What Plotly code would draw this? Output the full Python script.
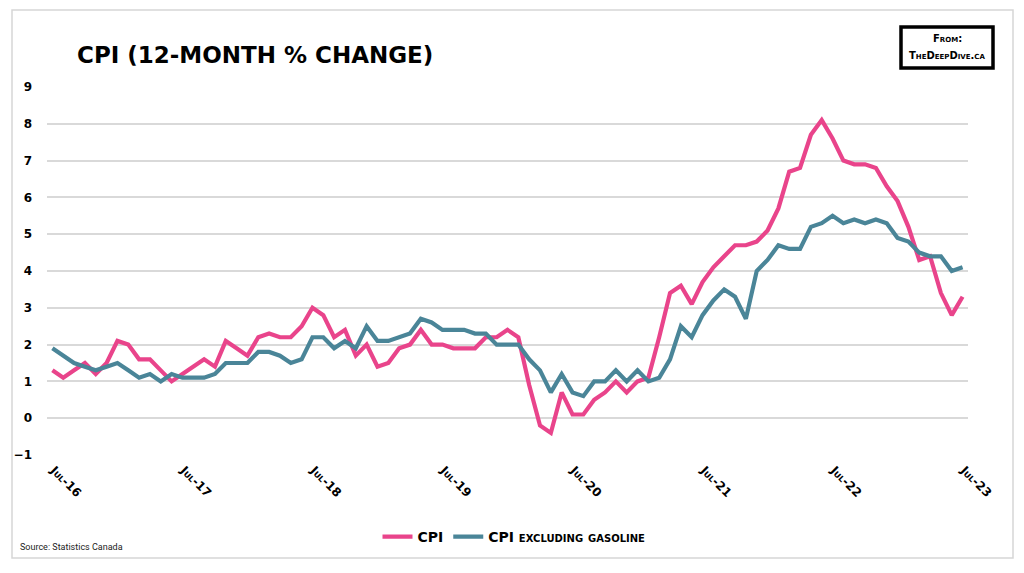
import plotly.graph_objects as go

# ---- data (12-month % change) ----
cpi = [1.3, 1.1, 1.3, 1.5, 1.2, 1.5,
       2.1, 2.0, 1.6, 1.6, 1.3, 1.0, 1.2, 1.4, 1.6, 1.4, 2.1, 1.9,
       1.7, 2.2, 2.3, 2.2, 2.2, 2.5, 3.0, 2.8, 2.2, 2.4, 1.7, 2.0,
       1.4, 1.5, 1.9, 2.0, 2.4, 2.0, 2.0, 1.9, 1.9, 1.9, 2.2, 2.2,
       2.4, 2.2, 0.9, -0.2, -0.4, 0.7, 0.1, 0.1, 0.5, 0.7, 1.0, 0.7,
       1.0, 1.1, 2.2, 3.4, 3.6, 3.1, 3.7, 4.1, 4.4, 4.7, 4.7, 4.8,
       5.1, 5.7, 6.7, 6.8, 7.7, 8.1, 7.6, 7.0, 6.9, 6.9, 6.8, 6.3,
       5.9, 5.2, 4.3, 4.4, 3.4, 2.8, 3.3]
cpi_ex_gas = [1.9, 1.7, 1.5, 1.4, 1.3, 1.4,
              1.5, 1.3, 1.1, 1.2, 1.0, 1.2, 1.1, 1.1, 1.1, 1.2, 1.5, 1.5,
              1.5, 1.8, 1.8, 1.7, 1.5, 1.6, 2.2, 2.2, 1.9, 2.1, 1.9, 2.5,
              2.1, 2.1, 2.2, 2.3, 2.7, 2.6, 2.4, 2.4, 2.4, 2.3, 2.3, 2.0,
              2.0, 2.0, 1.6, 1.3, 0.7, 1.2, 0.7, 0.6, 1.0, 1.0, 1.3, 1.0,
              1.3, 1.0, 1.1, 1.6, 2.5, 2.2, 2.8, 3.2, 3.5, 3.3, 2.7, 4.0,
              4.3, 4.7, 4.6, 4.6, 5.2, 5.3, 5.5, 5.3, 5.4, 5.3, 5.4, 5.3,
              4.9, 4.8, 4.5, 4.4, 4.4, 4.0, 4.1]
tick_labels = ["Jul-16", "Jul-17", "Jul-18", "Jul-19", "Jul-20", "Jul-21", "Jul-22", "Jul-23"]
series_names = ["CPI", "CPI excluding gasoline"]

months = list(range(len(cpi)))
tick_pos = [12 * k - 0.5 for k in range(len(tick_labels))]

PINK = "#E9448B"
TEAL = "#4A8598"
GRID = "#D9D9D9"
FONT = "DejaVu Sans"

W, H = 1024, 573
L, R, T, B = 47, 56, 87, 118
PW, PH = W - L - R, H - T - B


def px(x):
    return (x - L) / PW


def py(y):
    return (H - B - y) / PH


fig = go.Figure()
fig.add_trace(go.Scatter(x=months, y=cpi, mode="lines", name=series_names[0],
                         line=dict(color=PINK, width=4.2)))
fig.add_trace(go.Scatter(x=months, y=cpi_ex_gas, mode="lines", name=series_names[1],
                         line=dict(color=TEAL, width=4.2)))

fig.update_layout(
    width=W, height=H,
    margin=dict(l=L, r=R, t=T, b=B),
    paper_bgcolor="white", plot_bgcolor="white",
    font=dict(family=FONT, color="black"),
    xaxis=dict(range=[-0.5, len(cpi) - 0.5], tickmode="array", tickvals=tick_pos,
               ticktext=tick_labels, tickangle=45, showgrid=False, zeroline=False,
               showline=False, ticks="", ticklabelshift=7, ticklabelstandoff=5,
               tickfont=dict(size=12, family=FONT, weight="bold", variant="small-caps")),
    xaxis2=dict(overlaying="x", matches="x", anchor="free", position=py(418),
                tickmode="array", tickvals=tick_pos, showticklabels=False,
                ticks="outside", ticklen=5, tickcolor=GRID, tickwidth=1.5,
                showgrid=False, zeroline=False, showline=False),
    yaxis=dict(range=[-1, 9], dtick=1, showgrid=True, gridcolor=GRID, gridwidth=1.5,
               zeroline=False, showline=False, ticks="", ticklabelstandoff=14,
               tickfont=dict(size=12, family=FONT, weight="bold")),
    showlegend=True,
    legend=dict(orientation="h", x=px(514), xanchor="center", y=py(537), yanchor="middle",
                itemwidth=30, font=dict(size=14, family=FONT, weight="bold", variant="small-caps"),
                bgcolor="rgba(0,0,0,0)"),
)

shapes = [
    dict(type="rect", xref="paper", yref="paper", x0=px(12), x1=px(1013), y0=py(558), y1=py(10),
         line=dict(color="#D6D6D6", width=1.5), fillcolor="rgba(0,0,0,0)", layer="below"),
    dict(type="rect", xref="paper", yref="paper", x0=px(901), x1=px(993), y0=py(68), y1=py(27),
         line=dict(color="black", width=3.5), fillcolor="white"),
]
annotations = [
    dict(text="CPI (12-MONTH % CHANGE)", xref="paper", yref="paper", x=px(75), y=py(55),
         xanchor="left", yanchor="middle", showarrow=False,
         font=dict(size=23, family=FONT, weight="bold", color="black")),
    dict(text="From:", xref="paper", yref="paper", x=px(947), y=py(38),
         xanchor="center", yanchor="middle", showarrow=False,
         font=dict(size=10, family=FONT, weight="bold", variant="small-caps")),
    dict(text="TheDeepDive.ca", xref="paper", yref="paper", x=px(947), y=py(55),
         xanchor="center", yanchor="middle", showarrow=False,
         font=dict(size=10, family=FONT, weight="bold", variant="small-caps")),
    dict(text="Source: Statistics Canada", xref="paper", yref="paper", x=px(18), y=py(547),
         xanchor="left", yanchor="middle", showarrow=False,
         font=dict(size=9, family="Liberation Sans Narrow, Roboto, sans-serif", color="#222")),
]
fig.update_layout(shapes=shapes, annotations=annotations)

fig.write_html("out.html", config={"displayModeBar": False},
               post_script="document.body.style.margin='0';")
